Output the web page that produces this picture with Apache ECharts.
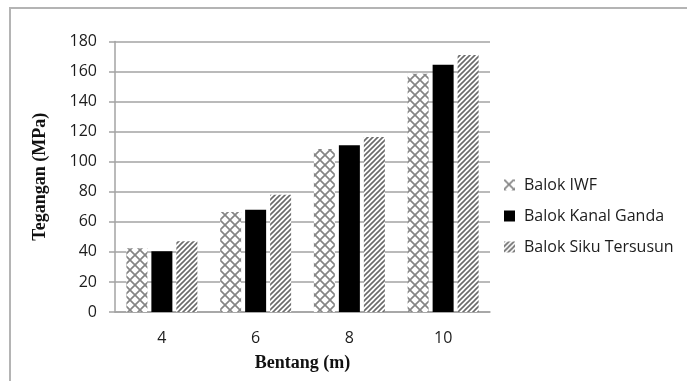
<!DOCTYPE html>
<html>
<head>
<meta charset="utf-8">
<script src="https://cdn.jsdelivr.net/npm/echarts@6/dist/echarts.min.js"></script>
<style>
  html, body { margin: 0; padding: 0; background: #fff; }
  #chart { width: 687px; height: 381px; }
</style>
</head>
<body>
<div id="chart"></div>
<script>
// Span lengths (m) and stress values (MPa) for each beam type
const categories = ['4', '6', '8', '10'];
const seriesNames = ['Balok IWF', 'Balok Kanal Ganda', 'Balok Siku Tersusun'];
const iwfValues = [42.5, 66.5, 108.5, 158.5];
const kanalValues = [40.5, 68, 111, 164.5];
const sikuValues = [47, 78, 116.5, 171];
const yTicks = { min: 0, max: 180, interval: 20 };

// Cross-hatch fill tile
function crossPattern() {
  const c = document.createElement('canvas');
  c.width = 10; c.height = 10;
  const g = c.getContext('2d');
  g.fillStyle = '#ffffff';
  g.fillRect(0, 0, 10, 10);
  g.strokeStyle = '#858585';
  g.lineWidth = 1.7;
  g.beginPath();
  g.moveTo(0, 0); g.lineTo(10, 10);
  g.moveTo(10, 0); g.lineTo(0, 10);
  g.stroke();
  return c;
}

// Diagonal stripe fill tile
function stripePattern() {
  const s = 5;
  const c = document.createElement('canvas');
  c.width = s; c.height = s;
  const g = c.getContext('2d');
  g.fillStyle = '#ffffff';
  g.fillRect(0, 0, s, s);
  g.strokeStyle = '#6a6a6a';
  g.lineWidth = 1.6;
  g.beginPath();
  g.moveTo(-1, s + 1); g.lineTo(s + 1, -1);
  g.moveTo(-1, 1); g.lineTo(1, -1);
  g.moveTo(s - 1, s + 1); g.lineTo(s + 1, s - 1);
  g.stroke();
  return c;
}

const labelFont = '"Open Sans", "Liberation Sans", sans-serif';
const titleFont = '"Liberation Serif", "Times New Roman", serif';
const axisGray = '#a3a3a3';
const textColor = '#1c1c1c';

const chart = echarts.init(document.getElementById('chart'), null, { renderer: 'canvas' });

chart.setOption({
  animation: false,
  backgroundColor: '#ffffff',
  graphic: [{
    type: 'rect',
    shape: { x: 10, y: 8, width: 700, height: 400 },
    style: { fill: 'none', stroke: '#b4b4b4', lineWidth: 2 },
    silent: true,
    z: -1
  }],
  grid: { left: 115, right: 197, top: 41.5, bottom: 69 },
  legend: {
    orient: 'vertical',
    left: 499,
    top: 172,
    itemWidth: 11,
    itemHeight: 11,
    itemGap: 15,
    icon: 'rect',
    data: seriesNames,
    textStyle: {
      fontFamily: labelFont,
      fontSize: 16,
      lineHeight: 14,
      color: textColor,
      padding: [0, 0, 0, 4]
    }
  },
  xAxis: {
    type: 'category',
    data: categories,
    name: 'Bentang (m)',
    nameLocation: 'middle',
    nameGap: 42,
    nameTextStyle: { fontFamily: titleFont, fontWeight: 'bold', fontSize: 18, color: '#111' },
    axisLine: { lineStyle: { color: axisGray, width: 1.5 } },
    axisTick: { show: false },
    axisLabel: { fontFamily: labelFont, fontSize: 16, color: textColor, margin: 18 }
  },
  yAxis: {
    type: 'value',
    min: yTicks.min,
    max: yTicks.max,
    interval: yTicks.interval,
    name: 'Tegangan (MPa)',
    nameLocation: 'middle',
    nameGap: 66,
    nameTextStyle: { fontFamily: titleFont, fontWeight: 'bold', fontSize: 18, color: '#111' },
    axisLine: { show: true, lineStyle: { color: axisGray, width: 1.5 } },
    axisTick: { show: true, length: 6, lineStyle: { color: axisGray, width: 1.5 } },
    axisLabel: { fontFamily: labelFont, fontSize: 16, color: textColor, margin: 18 },
    splitLine: { lineStyle: { color: axisGray, width: 1.5 } }
  },
  series: [
    {
      name: seriesNames[0],
      type: 'bar',
      data: iwfValues,
      barWidth: 21,
      barGap: '19%',
      itemStyle: { color: { image: crossPattern(), repeat: 'repeat' } }
    },
    {
      name: seriesNames[1],
      type: 'bar',
      data: kanalValues,
      barWidth: 21,
      barGap: '19%',
      itemStyle: { color: '#000000' }
    },
    {
      name: seriesNames[2],
      type: 'bar',
      data: sikuValues,
      barWidth: 21,
      barGap: '19%',
      itemStyle: { color: { image: stripePattern(), repeat: 'repeat' } }
    }
  ]
});
</script>
</body>
</html>
